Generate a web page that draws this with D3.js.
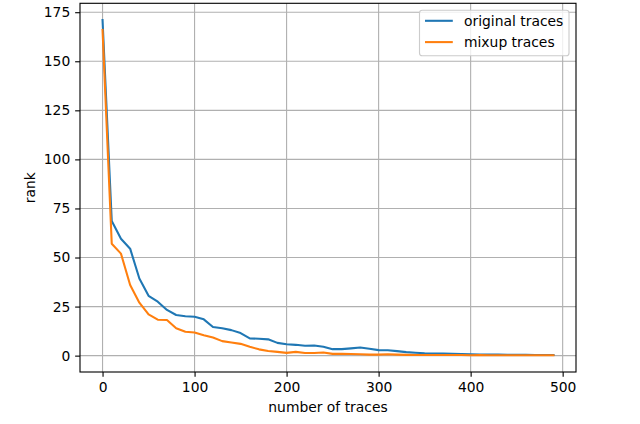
<!DOCTYPE html>
<html>
<head>
<meta charset="utf-8">
<script src="https://cdn.jsdelivr.net/npm/d3@7"></script>
<style>
html,body{margin:0;padding:0;background:#fff;}
svg{display:block;}
text{font-family:"DejaVu Sans",sans-serif;}
</style>
</head>
<body>
<script>
const traces = [0,10,20,30,40,50,60,70,80,90,100,110,120,130,140,150,160,170,180,190,200,210,220,230,240,250,260,270,280,290,300,310,320,330,340,350,360,370,380,390,400,410,420,430,440,450,460,470,480,490];
const originalRank = [171,68.6,59.6,54.5,39.3,30.5,27.5,23.3,20.7,20.1,19.8,18.5,14.6,14,13,11.5,8.8,8.6,8.3,6.5,5.8,5.5,5.0,5.2,4.5,3.3,3.3,3.7,4.1,3.5,2.8,2.7,2.3,1.8,1.5,1.2,1.1,1.1,0.9,0.8,0.7,0.6,0.6,0.5,0.4,0.4,0.4,0.3,0.3,0.3];
const mixupRank = [166,57,52,36,27,21,18.3,18.2,14,12.2,11.8,10.4,9.2,7.4,6.7,6.0,4.5,3.2,2.4,1.9,1.4,1.9,1.3,1.3,1.6,0.9,0.9,0.8,0.7,0.5,0.5,0.7,0.5,0.4,0.3,0.3,0.3,0.3,0.3,0.3,0.2,0.3,0.2,0.2,0.2,0.2,0.2,0.2,0.2,0.2];
const xTicks = [0,100,200,300,400,500];
const yTicks = [0,25,50,75,100,125,150,175];
const seriesNames = ["original traces","mixup traces"];
const seriesColors = ["#1f77b4","#ff7f0e"];
const xLabel = "number of traces";
const yLabel = "rank";

const W = 640, H = 424;
const L = 80, R = 576, T = 3.3, B = 372;
const fs = 13.89;

const svg = d3.select("body").append("svg").attr("width", W).attr("height", H);

const xmin = d3.min(traces), xmax = d3.max(traces);
const xpad = (xmax - xmin) * 0.05;
const allY = originalRank.concat(mixupRank);
const ymin = d3.min(allY), ymax = d3.max(allY);
const ypad = (ymax - ymin) * 0.05;

const x = d3.scaleLinear().domain([xmin - xpad, xmax + xpad]).range([L, R]);
const y = d3.scaleLinear().domain([ymin - ypad, ymax + ypad]).range([B, T]);

// grid
const g = svg.append("g");
g.selectAll("line.gx").data(xTicks).enter().append("line")
  .attr("x1", d => x(d)).attr("x2", d => x(d)).attr("y1", T).attr("y2", B)
  .attr("stroke", "#b0b0b0").attr("stroke-width", 1.11);
g.selectAll("line.gy").data(yTicks).enter().append("line")
  .attr("y1", d => y(d)).attr("y2", d => y(d)).attr("x1", L).attr("x2", R)
  .attr("stroke", "#b0b0b0").attr("stroke-width", 1.11);

// lines
const series = [originalRank, mixupRank];
const line = d3.line().x((d, i) => x(traces[i])).y(d => y(d));
series.forEach((s, k) => {
  svg.append("path").datum(s).attr("d", line).attr("fill", "none")
    .attr("stroke", seriesColors[k]).attr("stroke-width", 2.08)
    .attr("stroke-linejoin", "round").attr("stroke-linecap", "square");
});

// axes
const xAxis = d3.axisBottom(x).tickValues(xTicks).tickSize(4.86).tickPadding(4.86).tickFormat(d3.format("d"));
const yAxis = d3.axisLeft(y).tickValues(yTicks).tickSize(4.86).tickPadding(4.86).tickFormat(d3.format("d"));
const gx = svg.append("g").attr("transform", `translate(0,${B})`).call(xAxis);
const gy = svg.append("g").attr("transform", `translate(${L},0)`).call(yAxis);
[gx, gy].forEach(a => {
  a.select(".domain").remove();
  a.selectAll(".tick line").attr("stroke", "#000").attr("stroke-width", 1.11);
  a.selectAll(".tick text").attr("fill", "#000").style("font-size", fs + "px").style("font-family", "DejaVu Sans");
});

// spines
svg.append("rect").attr("x", L).attr("y", T).attr("width", R - L).attr("height", B - T)
  .attr("fill", "none").attr("stroke", "#000").attr("stroke-width", 1.11);

// labels
svg.append("text").attr("x", (L + R) / 2).attr("y", 412).attr("text-anchor", "middle")
  .style("font-size", fs + "px").text(xLabel);
svg.append("text").attr("transform", `translate(35,${(T + B) / 2}) rotate(-90)`).attr("text-anchor", "middle")
  .style("font-size", fs + "px").text(yLabel);

// legend
const lx = 419.5, ly = 10.3, lw = 149.5, lh = 45.5;
svg.append("rect").attr("x", lx).attr("y", ly).attr("width", lw).attr("height", lh)
  .attr("rx", 2.8).attr("fill", "#fff").attr("fill-opacity", 0.8)
  .attr("stroke", "#cccccc").attr("stroke-width", 1.11);
seriesNames.forEach((n, k) => {
  const yy = 20.8 + k * 21.3;
  svg.append("line").attr("x1", 425).attr("x2", 452.8).attr("y1", yy).attr("y2", yy)
    .attr("stroke", seriesColors[k]).attr("stroke-width", 2.08);
  svg.append("text").attr("x", 464).attr("y", yy + 5).style("font-size", fs + "px").text(n);
});
</script>
</body>
</html>
